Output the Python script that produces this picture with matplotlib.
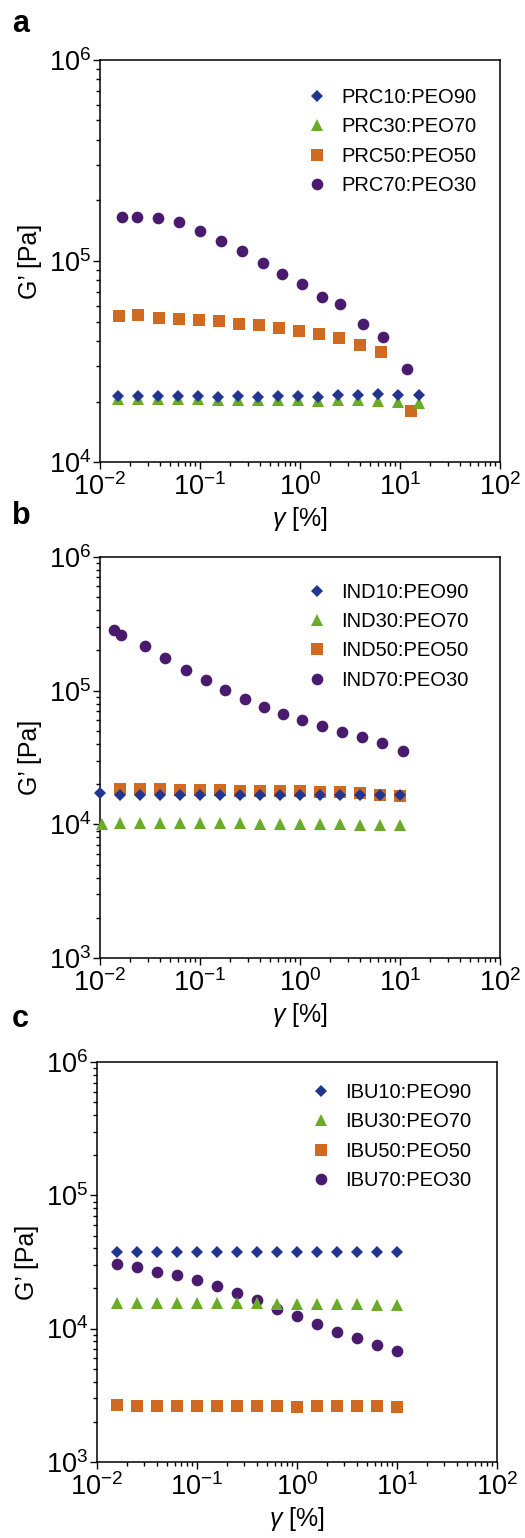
import matplotlib
matplotlib.use("Agg")
import matplotlib.pyplot as plt
from matplotlib.ticker import LogLocator, NullFormatter

plt.rcParams['font.family'] = ['Liberation Sans', 'DejaVu Sans']
plt.rcParams['mathtext.fontset'] = 'custom'
plt.rcParams['mathtext.rm'] = 'Liberation Sans'
plt.rcParams['mathtext.it'] = 'Liberation Sans:italic'
plt.rcParams['mathtext.default'] = 'regular'

# strain amplitude grids [%]
x_a10 = [0.0153, 0.0242, 0.0383, 0.0608, 0.0963, 0.153, 0.242, 0.383, 0.608, 0.963, 1.53, 2.42, 3.83, 6.08, 9.63, 15.4]
x_a50 = [0.0156, 0.0238, 0.0386, 0.0612, 0.097, 0.154, 0.244, 0.386, 0.612, 0.97, 1.54, 2.47, 3.98, 6.41, 12.9]
x_a70 = [0.0165, 0.0233, 0.0378, 0.0616, 0.101, 0.163, 0.265, 0.423, 0.666, 1.04, 1.65, 2.53, 4.27, 6.81, 11.8]

x_b10 = [0.01, 0.0158, 0.0251, 0.0398, 0.0631, 0.1, 0.158, 0.251, 0.398, 0.631, 1.0, 1.58, 2.51, 3.98, 6.31, 10.0]
x_b30 = [0.0104, 0.0158, 0.0251, 0.0398, 0.0631, 0.1, 0.158, 0.251, 0.398, 0.631, 1.0, 1.58, 2.51, 3.98, 6.31, 10.0]
x_b50 = [0.0158, 0.0251, 0.0398, 0.0631, 0.1, 0.158, 0.251, 0.398, 0.631, 1.0, 1.58, 2.51, 3.98, 6.31, 10.0]
x_b70 = [0.0137, 0.0161, 0.028, 0.045, 0.0719, 0.114, 0.178, 0.28, 0.433, 0.676, 1.055, 1.67, 2.63, 4.17, 6.66, 10.7]

x_c = [0.0158, 0.0251, 0.0398, 0.0631, 0.1, 0.158, 0.251, 0.398, 0.631, 1.0, 1.58, 2.51, 3.98, 6.31, 10.0]

# storage modulus G' [Pa]
g_prc10 = [21300, 21200, 21200, 21200, 21200, 21100, 21200, 21100, 21200, 21200, 21100, 21500, 21500, 21700, 21500, 21500]
g_prc30 = [20500, 20500, 20500, 20500, 20500, 20400, 20400, 20400, 20400, 20300, 20200, 20300, 20300, 20100, 19900, 19600]
g_prc50 = [53300, 54100, 52100, 51700, 51100, 50100, 48800, 47900, 46300, 45000, 43500, 41400, 38100, 35300, 17900]
g_prc70 = [166000, 166000, 163000, 155500, 141800, 126000, 111500, 97500, 85700, 76600, 66000, 61200, 48800, 41900, 28900]

g_ind10 = [17100, 16700, 16700, 16500, 16700, 16500, 16500, 16500, 16500, 16500, 16500, 16500, 16600, 16600, 16600, 16500]
g_ind30 = [10000, 10300, 10200, 10200, 10200, 10200, 10200, 10200, 10100, 10100, 10100, 10000, 10000, 9950, 9900, 9850]
g_ind50 = [18400, 18500, 18500, 18100, 18100, 18000, 17900, 17900, 17900, 17800, 17600, 17600, 17100, 16700, 16200]
g_ind70 = [286000, 260000, 216000, 175000, 142500, 120000, 101000, 85900, 75000, 66800, 60000, 54400, 49300, 44700, 40400, 35600]

g_ibu10 = [37400, 37400, 37400, 37400, 37400, 37400, 37400, 37400, 37400, 37400, 37400, 37400, 37400, 37400, 37400]
g_ibu30 = [15600, 15600, 15500, 15500, 15500, 15500, 15500, 15500, 15400, 15300, 15300, 15300, 15200, 15100, 15100]
g_ibu50 = [2680, 2640, 2640, 2640, 2640, 2630, 2610, 2610, 2610, 2580, 2610, 2610, 2610, 2610, 2590]
g_ibu70 = [30500, 28800, 26700, 25200, 23200, 21000, 18600, 16400, 14000, 12400, 10800, 9490, 8450, 7570, 6820]

ratios = ['10:PEO90', '30:PEO70', '50:PEO50', '70:PEO30']

# marker, size, colour, zorder for the four blend ratios
styles = [('D', 6.0, '#22368f', 6),
          ('^', 8.0, '#6aab28', 5),
          ('s', 8.6, '#d06a20', 4),
          ('o', 8.4, '#4a1a6e', 3)]

panels = [
    ('a', 'PRC', [(x_a10, g_prc10), (x_a10, g_prc30), (x_a50, g_prc50), (x_a70, g_prc70)],
     [0.1905, 0.6996, 0.7619, 0.2614], (1e4, 1e6), (0.518, 0.93), 32),
    ('b', 'IND', [(x_b10, g_ind10), (x_b30, g_ind30), (x_b50, g_ind50), (x_b70, g_ind70)],
     [0.1905, 0.3769, 0.7619, 0.2611], (1e3, 1e6), (0.518, 0.935), 524),
    ('c', 'IBU', [(x_c, g_ibu10), (x_c, g_ibu30), (x_c, g_ibu50), (x_c, g_ibu70)],
     [0.1842, 0.0496, 0.7619, 0.2597], (1e3, 1e6), (0.536, 0.948), 1027),
]

fig = plt.figure(figsize=(5.25, 15.38), dpi=100)

for letter, drug, series, rect, ylim, leg_xy, letter_y in panels:
    ax = fig.add_axes(rect)
    for (x, g), (m, ms, c, z), r in zip(series, styles, ratios):
        ax.plot(x, g, linestyle='none', marker=m, markersize=ms, color=c,
                markeredgewidth=0, zorder=z, label=drug + r, clip_on=False)
    ax.set_xscale('log')
    ax.set_yscale('log')
    ax.set_xlim(1e-2, 1e2)
    ax.set_ylim(*ylim)
    ax.xaxis.set_major_locator(LogLocator(base=10, numticks=10))
    ax.xaxis.set_minor_locator(LogLocator(base=10, subs=range(2, 10), numticks=20))
    ax.yaxis.set_minor_locator(LogLocator(base=10, subs=range(2, 10), numticks=20))
    ax.xaxis.set_minor_formatter(NullFormatter())
    ax.yaxis.set_minor_formatter(NullFormatter())
    ax.tick_params(which='both', direction='out', top=False, right=False,
                   width=1.0, labelsize=19.5, pad=1)
    ax.tick_params(axis='x', which='major', pad=3)
    ax.tick_params(which='major', length=5)
    ax.tick_params(which='minor', length=3)
    for sp in ax.spines.values():
        sp.set_linewidth(1.1)
    ax.set_xlabel(r'$\mathit{\gamma}$ [%]', fontsize=18, labelpad=3)
    ax.set_ylabel('G’ [Pa]', fontsize=18, labelpad=5)
    ax.legend(loc='upper left', bbox_to_anchor=leg_xy, frameon=False,
              fontsize=14.5, handlelength=1.0, handletextpad=0.7,
              labelspacing=0.51, borderpad=0, borderaxespad=0, numpoints=1)
    # panel letter above the axes, at the left edge of the figure
    fig.text(0.023, 1 - letter_y / 1538, letter, fontsize=22, fontweight='bold',
             ha='left', va='baseline')

fig.savefig('out.png', dpi=100)
